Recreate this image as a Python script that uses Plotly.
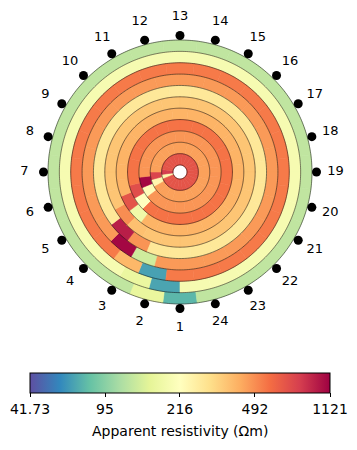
import numpy as np
import plotly.graph_objects as go

# ---------------- data ----------------
n_electrodes = 24
electrode_labels = [str(k) for k in range(1, 25)]
# base apparent resistivity of each ring (outer -> inner), Ohm m
ring_base = [125.7, 192.1, 543.4, 461.1, 275.9, 359.0, 401.5, 561.7, 471.6, 446.1, 684.4]
# anomalous cells: first segment (j=0) and second segment (j=1) of each ring
ring_seg0 = [75.5, 67.9, 66.8, 136.9, 476.5, 371.0, 177.5, 216.3, 223.5, 238.7, 238.7]
ring_seg1 = [164.0, 166.2, 391.1, 1084.6, 960.3, 492.4, 684.4, 718.9, 1084.6, 765.4, 806.7]
vmin, vmax = 41.73, 1121.0
cbar_ticks = [41.73, 95, 216, 492, 1121]
cbar_ticktext = ["41.73", "95", "216", "492", "1121"]
cbar_title = "Apparent resistivity (Ωm)"

spectral_r = ["#5e4fa2", "#3288bd", "#66c2a5", "#abdda4", "#e6f598", "#ffffbf",
              "#fee08b", "#fdae61", "#f46d43", "#d53e4f", "#9e0142"]
cscale = [[i / 10, c] for i, c in enumerate(spectral_r)]

# ---------------- geometry ----------------
# the page body has an 8px margin, so the figure is laid out in a 349x442 box
OFF = 8
W, H = 357 - OFF, 450 - OFF
CX, CY = 180 - OFF, 172 - OFF
R_OUT = 132.0
R_IN = 7.0
n_rings = len(ring_base)
dr = (R_OUT - R_IN) / n_rings
seg = 360.0 / n_electrodes

thetas, bases, lengths, vals = [], [], [], []
for i in range(n_rings):
    r_outer = R_OUT - dr * i
    for j in range(n_electrodes):
        v = ring_base[i]
        if j == 0:
            v = ring_seg0[i]
        elif j == 1:
            v = ring_seg1[i]
        thetas.append(j * seg + i * seg / 2)
        bases.append(r_outer - dr)
        lengths.append(dr)
        vals.append(np.log10(v))

cmin, cmax = np.log10(vmin), np.log10(vmax)

fig = go.Figure()
fig.add_trace(go.Barpolar(
    r=lengths, base=bases, theta=thetas, width=[seg] * len(thetas),
    marker=dict(
        color=vals, colorscale=cscale, cmin=cmin, cmax=cmax,
        line=dict(color=vals, colorscale=cscale, cmin=cmin, cmax=cmax, width=0.6),
        colorbar=dict(
            orientation="h", x=(180 - OFF) / W, xanchor="center",
            y=1 - (373 - OFF) / H, yanchor="top",
            len=300 / W, lenmode="fraction", thickness=20, thicknessmode="pixels",
            xpad=0, ypad=0,
            outlinewidth=1, outlinecolor="black",
            tickvals=[np.log10(t) for t in cbar_ticks], ticktext=cbar_ticktext,
            ticks="outside", ticklen=4, tickcolor="black", tickwidth=1,
            tickfont=dict(family="DejaVu Sans", size=14, color="black"),
        ),
    ),
    showlegend=False, hoverinfo="skip",
))

# ring boundary circles
circ_theta = np.linspace(0, 360, 361)
for i in range(n_rings + 1):
    rr = R_OUT - dr * i
    fig.add_trace(go.Scatterpolar(
        r=[rr] * len(circ_theta), theta=circ_theta, mode="lines",
        line=dict(color="rgba(0,0,0,0.85)", width=0.6),
        showlegend=False, hoverinfo="skip",
    ))

# electrodes
el_theta = [k * seg for k in range(n_electrodes)]
fig.add_trace(go.Scatterpolar(
    r=[136.5] * n_electrodes, theta=el_theta, mode="markers",
    marker=dict(color="black", size=9), showlegend=False, hoverinfo="skip",
))
fig.add_trace(go.Scatterpolar(
    r=[155.5] * n_electrodes, theta=el_theta, mode="text", text=electrode_labels,
    textfont=dict(family="DejaVu Sans", size=13, color="black"),
    showlegend=False, hoverinfo="skip", cliponaxis=False,
))

RMAX = 164
fig.update_layout(
    width=W, height=H,
    margin=dict(l=0, r=0, t=0, b=0, autoexpand=False),
    paper_bgcolor="white", plot_bgcolor="white",
    font=dict(family="DejaVu Sans", size=12, color="black"),
    polar=dict(
        domain=dict(x=[(CX - RMAX) / W, (CX + RMAX) / W],
                    y=[1 - (CY + RMAX) / H, 1 - (CY - RMAX) / H]),
        bgcolor="rgba(0,0,0,0)",
        radialaxis=dict(range=[0, RMAX], visible=False, showgrid=False),
        angularaxis=dict(rotation=-90, direction="clockwise", visible=False, showgrid=False),
        barmode="overlay",
    ),
    annotations=[dict(
        text=cbar_title, xref="paper", yref="paper",
        x=(180 - OFF) / W, y=1 - (431 - OFF) / H, xanchor="center", yanchor="middle",
        showarrow=False, font=dict(family="DejaVu Sans", size=14, color="black"),
    )],
)

fig.write_html("out.html")
